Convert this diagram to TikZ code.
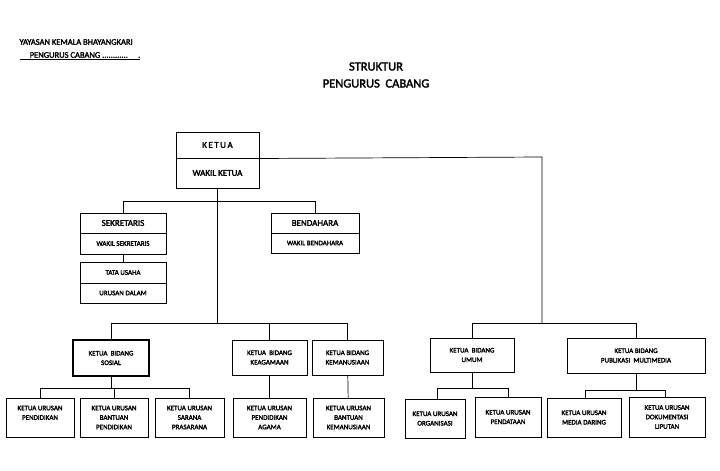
\documentclass[tikz,border=0pt]{standalone}
\usepackage{fontspec}
\setmainfont{Carlito}[AutoFakeBold=2.2]
\begin{document}
\begin{tikzpicture}[x=1pt,y=-1pt,
  box/.style={draw,line width=1pt,align=center,inner sep=1pt,font=\bfseries\fontsize{7}{9.5}\selectfont},
  thickbox/.style={box,line width=1.8pt},
  big/.style={font=\bfseries\fontsize{9}{11}\selectfont},
  ln/.style={line width=0.7pt}]
\useasboundingbox (0,0) rectangle (720,471);
\newcommand\bx[7][]{\node[box,#1,minimum width={#4-#3},minimum height={#6-#5}] (#2) at ({(#3+#4)/2},{(#5+#6)/2}) {#7};}
\node[anchor=west,font=\bfseries\fontsize{8.5}{10}\selectfont] (h1) at (16,42) {YAYASAN KEMALA BHAYANGKARI};
\node[anchor=west,font=\bfseries\fontsize{8.5}{10}\selectfont] (h2) at (16,56) {\underline{\hspace{1.2em}PENGURUS CABANG ............\hspace{1.2em}.}};
\node[align=center,font=\bfseries\fontsize{12.5}{17}\selectfont] (title) at (376,75) {STRUKTUR\\PENGURUS\ \ CABANG};
% top
\bx[big]{ketua}{176}{259}{132}{158}{K\,E\,T\,U\,A}
\bx[big]{wakil}{176}{259}{158}{188}{WAKIL KETUA}
\bx[big]{sek}{80}{166}{213}{233}{SEKRETARIS}
\bx{wsek}{80}{166}{233}{254}{WAKIL SEKRETARIS}
\bx{tu}{80}{166}{262}{283}{TATA USAHA}
\bx{ud}{80}{166}{283}{303}{URUSAN DALAM}
\bx[big]{ben}{271}{359}{213}{233}{BENDAHARA}
\bx{wben}{271}{359}{233}{253}{WAKIL BENDAHARA}
% bidang
\bx[thickbox]{sos}{73}{149}{340}{376}{KETUA\ \ BIDANG\\SOSIAL}
\bx{aga}{232}{307}{340}{375}{KETUA\ \ BIDANG\\KEAGAMAAN}
\bx{kem}{312}{383}{340}{375}{KETUA BIDANG\\KEMANUSIAAN}
\bx{umum}{430}{514}{338}{372}{KETUA\ \ BIDANG\\UMUM}
\bx{pub}{567}{705}{338}{373}{KETUA BIDANG\\PUBLIKASI\ \ MULTIMEDIA}
% urusan
\bx{u1}{6}{74}{398}{437}{KETUA URUSAN\\PENDIDIKAN\\~}
\bx{u2}{80}{148}{398}{437}{KETUA URUSAN\\BANTUAN\\PENDIDIKAN}
\bx{u3}{155}{224}{398}{437}{KETUA URUSAN\\SARANA\\PRASARANA}
\bx{u4}{233}{306}{398}{437}{KETUA URUSAN\\PENDIDIKAN\\AGAMA}
\bx{u5}{313}{384}{398}{437}{KETUA URUSAN\\BANTUAN\\KEMANUSIAAN}
\bx{u6}{405}{465}{399}{438}{KETUA URUSAN\\ORGANISASI}
\bx{u7}{475}{541}{397}{437}{KETUA URUSAN\\PENDATAAN}
\bx{u8}{547}{621}{398}{437}{KETUA URUSAN\\MEDIA DARING}
\bx{u9}{629}{705}{397}{437}{KETUA URUSAN\\DOKUMENTASI\\LIPUTAN}
% connectors
\coordinate (jr) at (542,157);
\coordinate (jb) at (542,323);
\draw[ln] (ketua.south east) -- (jr) -- (jb);
\draw[ln] (wakil.south) -- (wakil.south |- 0,323);
\draw[ln] (sek.north) -- (sek.north |- 0,201) -| (ben.north);
\draw[ln] (wsek) -- (tu);
\draw[ln] (sos.north) |- (kem.north |- 0,323) -- (kem.north);
\draw[ln] (aga.north) -- (aga.north |- 0,323);
\draw[ln] (umum.north) |- (pub.north |- 0,323) -- (pub.north);
\draw[ln] (sos.south) -- (sos.south |- 0,388);
\draw[ln] (u1.north) |- (u3.north |- 0,388) -- (u3.north);
\draw[ln] (u2.north) -- (u2.north |- 0,388);
\draw[ln] (aga) -- (u4);
\draw[ln] (kem) -- (u5);
\draw[ln] (umum.south) -- (umum.south |- 0,388);
\draw[ln] (u6.north -| 437,0) |- (508,388) -- (u7.north -| 508,0);
\draw[ln] (pub.south) -- (pub.south |- 0,390);
\draw[ln] (u8.north -| 585,0) |- (665,390) -- (u9.north -| 665,0);
\end{tikzpicture}
\end{document}
